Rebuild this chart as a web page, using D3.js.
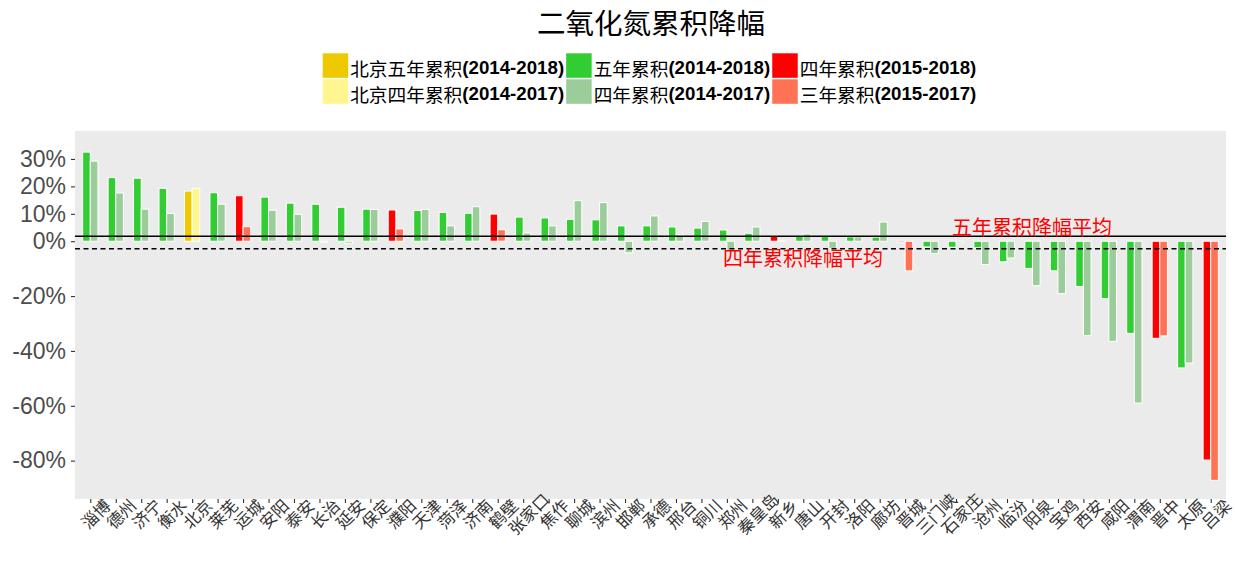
<!DOCTYPE html>
<html>
<head>
<meta charset="utf-8">
<script src="https://cdn.jsdelivr.net/npm/d3@7/dist/d3.min.js"></script>
<style>
  html, body { margin: 0; padding: 0; background: #fff; }
  svg { display: block; }
</style>
</head>
<body>
<svg id="chart" width="1235" height="561"></svg>
<script>
// ---------------- data ----------------
const categories = ["淄博","德州","济宁","衡水","北京","莱芜","运城","安阳","泰安","长治",
  "延安","保定","濮阳","天津","菏泽","济南","鹤壁","张家口","焦作","聊城",
  "滨州","邯郸","承德","邢台","铜川","郑州","秦皇岛","新乡","唐山","开封",
  "洛阳","廊坊","晋城","三门峡","石家庄","沧州","临汾","阳泉","宝鸡","西安",
  "咸阳","渭南","晋中","太原","吕梁"];
// first bar of each city (five-year 2014-2018, or four-year 2015-2018), in %
const firstBar = [32.5,23.2,23.0,19.3,18.3,17.7,16.6,16.1,13.9,13.5,
  12.4,11.7,11.4,11.2,10.5,10.2,9.9,8.8,8.5,8.0,
  7.8,5.6,5.6,5.2,4.8,4.1,2.9,2.1,1.8,1.7,
  1.6,1.5,-0.5,-2.1,-2.2,-2.4,-7.5,-9.9,-10.8,-16.5,
  -20.9,-33.6,-35.4,-46.2,-79.8];
// second bar (four-year 2014-2017, or three-year 2015-2017), in %
const secondBar = [29.2,17.6,11.7,10.1,19.3,13.5,5.3,11.3,9.8,-0.4,
  -0.7,11.6,4.5,11.6,5.6,12.6,4.2,3.0,5.6,14.8,
  14.1,-4.2,9.2,2.2,7.2,-3.3,5.2,0.2,2.7,-2.6,
  1.6,7.0,-10.8,-4.5,-0.6,-8.5,-6.1,-16.2,-19.1,-34.4,
  -36.5,-59.0,-34.5,-44.4,-87.2];
// group kind: N = 2014 start, B = Beijing, L = 2015 start
const groupKind = ["N","N","N","N","B","N","L","N","N","N",
  "N","N","L","N","N","N","L","N","N","N",
  "N","N","N","N","N","N","N","L","N","N",
  "N","N","L","N","N","N","N","N","N","N",
  "N","N","L","N","L"];
const legendLabels = [
  ["北京五年累积", "(2014-2018)"], ["北京四年累积", "(2014-2017)"],
  ["五年累积", "(2014-2018)"], ["四年累积", "(2014-2017)"],
  ["四年累积", "(2015-2018)"], ["三年累积", "(2015-2017)"]
];
const legendColors = ["#EEC900", "#FFF68F", "#32CD32", "#9BCD9B", "#FF0000", "#FF7256"];
const colorFirst = { N: "#32CD32", B: "#EEC900", L: "#FF0000" };
const colorSecond = { N: "#9BCD9B", B: "#FFF68F", L: "#FF7256" };
const meanFive = 1.8;   // 五年累积降幅平均 (%)
const meanFour = -2.7;  // 四年累积降幅平均 (%)
const yTicks = [-80, -60, -40, -20, 0, 10, 20, 30];
const titleText = "二氧化氮累积降幅";

// ---------------- layout ----------------
const svg = d3.select("#chart");
const panel = { left: 75, right: 1226, top: 131, bottom: 499 };
const cjk = "'Noto Sans CJK SC', 'Noto Sans', sans-serif";
const latin = "'Liberation Sans', Arial, 'Noto Sans CJK SC', sans-serif";

const x = d3.scalePoint().domain(categories).range([panel.left, panel.right]).padding(0.6);
const step = x.step();
const y = d3.scaleLinear().domain([-94.0, 40.2]).range([panel.bottom, panel.top]);

// panel background
svg.append("rect")
  .attr("x", panel.left).attr("y", panel.top)
  .attr("width", panel.right - panel.left).attr("height", panel.bottom - panel.top)
  .attr("fill", "#EBEBEB");

// bars
const rows = categories.map((c, i) => ({ c, a: firstBar[i], b: secondBar[i], k: groupKind[i] }));
const bw = step * 0.3;
const g = svg.append("g");
rows.forEach(d => {
  [[d.a, -1, colorFirst[d.k]], [d.b, 0, colorSecond[d.k]]].forEach(([v, off, col]) => {
    const y0 = y(0), y1 = y(v);
    g.append("rect")
      .attr("x", x(d.c) + off * bw)
      .attr("y", Math.min(y0, y1))
      .attr("width", bw)
      .attr("height", Math.max(Math.abs(y1 - y0), 0.6))
      .attr("fill", col)
      .attr("stroke", "#fff")
      .attr("stroke-width", 1);
  });
});

// mean lines
svg.append("line")
  .attr("x1", panel.left).attr("x2", panel.right)
  .attr("y1", y(meanFive)).attr("y2", y(meanFive))
  .attr("stroke", "#000").attr("stroke-width", 1.5);
svg.append("line")
  .attr("x1", panel.left).attr("x2", panel.right)
  .attr("y1", y(meanFour)).attr("y2", y(meanFour))
  .attr("stroke", "#000").attr("stroke-width", 1.5)
  .attr("stroke-dasharray", "5,3.5");

// annotations
svg.append("text").text("五年累积降幅平均")
  .attr("x", 1032).attr("y", 226.5)
  .attr("text-anchor", "middle").attr("dominant-baseline", "central")
  .style("font-family", cjk).style("font-size", "20px").attr("fill", "#FF0000");
svg.append("text").text("四年累积降幅平均")
  .attr("x", 803).attr("y", 257.5)
  .attr("text-anchor", "middle").attr("dominant-baseline", "central")
  .style("font-family", cjk).style("font-size", "20px").attr("fill", "#FF0000");

// y axis
const yAxis = svg.append("g")
  .attr("transform", `translate(${panel.left},0)`)
  .call(d3.axisLeft(y).tickValues(yTicks).tickSize(4).tickPadding(5)
    .tickFormat(d => d + "%"));
yAxis.select(".domain").remove();
yAxis.selectAll(".tick line").attr("stroke", "#333").attr("stroke-width", 1.1);
yAxis.selectAll(".tick text")
  .style("font-family", latin).style("font-size", "23px").attr("fill", "#4D4D4D");

// x axis
const xAxis = svg.append("g")
  .attr("transform", `translate(0,${panel.bottom})`)
  .call(d3.axisBottom(x).tickSize(4).tickSizeOuter(0));
xAxis.select(".domain").remove();
xAxis.selectAll(".tick line").attr("stroke", "#333").attr("stroke-width", 1.1);
xAxis.selectAll(".tick text")
  .attr("y", 0).attr("dy", null)
  .attr("transform", "translate(4.5,14.5) rotate(-45)")
  .attr("text-anchor", "middle").attr("dominant-baseline", "central")
  .style("font-family", cjk).style("font-size", "16.5px").attr("fill", "#333");

// title
svg.append("text").text(titleText)
  .attr("x", 651).attr("y", 33.5)
  .attr("text-anchor", "middle")
  .style("font-family", cjk).style("font-size", "28.5px").attr("fill", "#000");

// legend (3 columns x 2 rows, filled by column)
const legend = svg.append("g");
let colX = 322.7;
const rowY = [53.3, 79.3];
const keyW = 25.5, keyH = 24.5;
for (let col = 0; col < 3; col++) {
  let maxEnd = 0;
  for (let r = 0; r < 2; r++) {
    const idx = col * 2 + r;
    legend.append("rect")
      .attr("x", colX).attr("y", rowY[r])
      .attr("width", keyW).attr("height", keyH)
      .attr("fill", legendColors[idx]);
    const t = legend.append("text")
      .attr("x", colX + keyW + 2).attr("y", rowY[r] + keyH / 2 + 1)
      .attr("dominant-baseline", "central")
      .style("font-size", "18.7px").attr("fill", "#000");
    t.append("tspan").text(legendLabels[idx][0]).style("font-family", cjk);
    t.append("tspan").text(legendLabels[idx][1]).style("font-family", latin).style("font-weight", "bold");
    const end = colX + keyW + 2 + t.node().getComputedTextLength();
    maxEnd = Math.max(maxEnd, end);
  }
  colX = maxEnd + 2;
}
</script>
</body>
</html>
